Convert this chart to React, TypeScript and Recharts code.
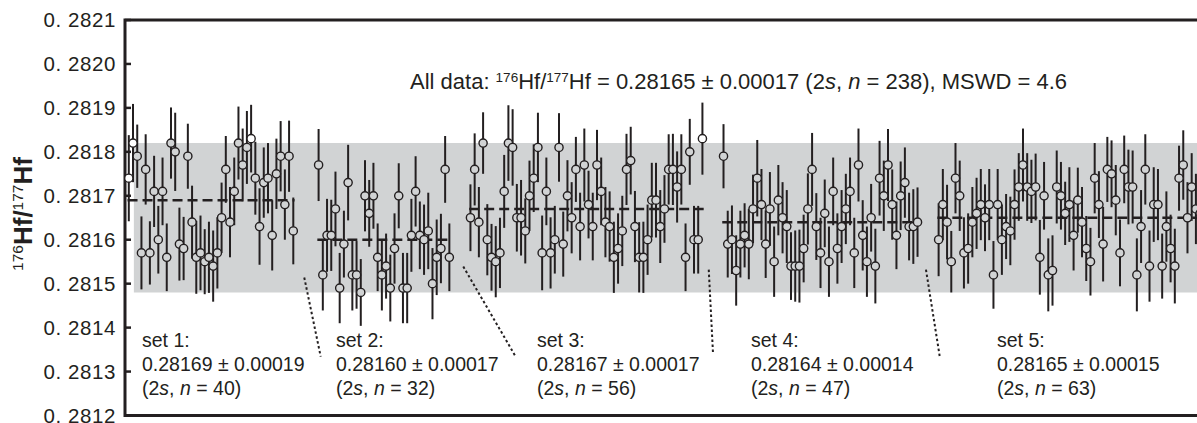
import React from 'react';
import { ScatterChart, Scatter, XAxis, YAxis, ErrorBar, ReferenceArea, ReferenceLine } from 'recharts';

const INK = '#231f20';
const BAND = '#d1d3d4';
const FONT = '"Liberation Sans", Arial, Helvetica, sans-serif';

// ---------- data ----------
const set1Values = [0.28174, 0.28182, 0.28179, 0.28157, 0.28176, 0.28157, 0.28171, 0.2816, 0.28171, 0.28156, 0.28182, 0.2818, 0.28159, 0.28158, 0.28179, 0.28164, 0.28156, 0.28157, 0.28155, 0.28156, 0.28154, 0.28157, 0.28165, 0.28176, 0.28164, 0.28171, 0.28182, 0.28177, 0.28181, 0.28183, 0.28174, 0.28163, 0.28173, 0.28174, 0.28161, 0.28175, 0.28179, 0.28168, 0.28179, 0.28162];
const set1Errors = [9.8e-5, 8.9e-5, 7.2e-5, 8.3e-5, 8e-5, 7.2e-5, 8.1e-5, 7.7e-5, 7.7e-5, 7.7e-5, 8.1e-5, 8.9e-5, 8.3e-5, 7.2e-5, 7.4e-5, 8.3e-5, 8.3e-5, 8.5e-5, 7.4e-5, 8.1e-5, 8.1e-5, 8.1e-5, 8e-5, 7.6e-5, 8e-5, 7.7e-5, 8.3e-5, 8.3e-5, 8.3e-5, 7.7e-5, 8.3e-5, 8.7e-5, 8e-5, 8e-5, 8e-5, 8e-5, 8e-5, 8e-5, 8.1e-5, 7.6e-5];

const set2Values = [0.28177, 0.28152, 0.28161, 0.28161, 0.28167, 0.28149, 0.28159, 0.28173, 0.28152, 0.28152, 0.28148, 0.2817, 0.28166, 0.2817, 0.28156, 0.28152, 0.28154, 0.28149, 0.28158, 0.2817, 0.28149, 0.28149, 0.28161, 0.28171, 0.28161, 0.2816, 0.28162, 0.2815, 0.28156, 0.28158, 0.28176, 0.28156];
const set2Errors = [8.2e-5, 8.1e-5, 8.3e-5, 8.1e-5, 8.5e-5, 8e-5, 7.6e-5, 8.6e-5, 8.1e-5, 7.7e-5, 7.6e-5, 8.1e-5, 7.6e-5, 7.5e-5, 7.7e-5, 8.1e-5, 7.4e-5, 7.6e-5, 8e-5, 7.4e-5, 8e-5, 8e-5, 8.3e-5, 8e-5, 7.7e-5, 8e-5, 8.7e-5, 8.1e-5, 8.6e-5, 7.9e-5, 7.6e-5, 7.7e-5];

const set3Values = [0.28165, 0.28176, 0.28164, 0.28182, 0.2816, 0.28156, 0.28155, 0.28157, 0.28171, 0.28182, 0.28181, 0.28165, 0.28165, 0.28162, 0.2817, 0.28174, 0.28181, 0.28157, 0.28171, 0.28157, 0.2816, 0.28181, 0.28159, 0.2817, 0.28165, 0.28176, 0.28163, 0.28177, 0.28168, 0.28163, 0.28177, 0.28171, 0.28164, 0.28163, 0.28156, 0.28158, 0.28162, 0.28176, 0.28178, 0.28163, 0.28156, 0.28156, 0.2816, 0.28169, 0.28169, 0.28163, 0.28167, 0.28176, 0.28176, 0.28172, 0.28176, 0.28156, 0.2818, 0.2816, 0.2816, 0.28183];
const set3Errors = [7.6e-5, 8.2e-5, 8e-5, 7e-5, 8.1e-5, 7.6e-5, 8.1e-5, 8e-5, 8.3e-5, 8.6e-5, 8.7e-5, 7.7e-5, 8.6e-5, 7.4e-5, 8e-5, 7.7e-5, 7.9e-5, 8.5e-5, 7.7e-5, 8.1e-5, 7.7e-5, 7.8e-5, 7.4e-5, 8.1e-5, 8.1e-5, 7.4e-5, 7.7e-5, 8.3e-5, 7.7e-5, 7.7e-5, 8e-5, 7.7e-5, 8e-5, 8e-5, 8.1e-5, 8e-5, 8e-5, 8.1e-5, 7.7e-5, 8.1e-5, 8e-5, 8.1e-5, 8e-5, 8.5e-5, 8.5e-5, 8.3e-5, 7.7e-5, 8e-5, 8.1e-5, 8.1e-5, 8e-5, 7.7e-5, 7.5e-5, 7.7e-5, 7.7e-5, 8.2e-5];

const set4Values = [0.28179, 0.28159, 0.2816, 0.28153, 0.28159, 0.28161, 0.28159, 0.28167, 0.28174, 0.28168, 0.28159, 0.28167, 0.28155, 0.28169, 0.28165, 0.28163, 0.28154, 0.28154, 0.28154, 0.28158, 0.28167, 0.28176, 0.28163, 0.28157, 0.28166, 0.28155, 0.28171, 0.28158, 0.28163, 0.28167, 0.28171, 0.28157, 0.28177, 0.28161, 0.28155, 0.28165, 0.28154, 0.28174, 0.2817, 0.28177, 0.28168, 0.28161, 0.2817, 0.28173, 0.28163, 0.28163, 0.28164];
const set4Errors = [7.3e-5, 7.6e-5, 7.8e-5, 8e-5, 7.6e-5, 7.3e-5, 8e-5, 7.8e-5, 8.7e-5, 8.1e-5, 7.7e-5, 8.4e-5, 8e-5, 8e-5, 8.1e-5, 8.3e-5, 7.7e-5, 8.1e-5, 8.3e-5, 7.7e-5, 8.1e-5, 8.3e-5, 7.6e-5, 8e-5, 7.7e-5, 8e-5, 7.7e-5, 8e-5, 8.3e-5, 8e-5, 7.7e-5, 8e-5, 8.3e-5, 8e-5, 8e-5, 7.7e-5, 8.5e-5, 8.5e-5, 8e-5, 8.2e-5, 8e-5, 7.7e-5, 7.8e-5, 8e-5, 7.7e-5, 8.5e-5, 7.9e-5];

const set5Values = [0.2816, 0.28168, 0.28164, 0.28155, 0.28174, 0.2817, 0.28157, 0.28158, 0.28164, 0.28166, 0.28168, 0.28165, 0.28168, 0.28152, 0.28168, 0.2816, 0.28163, 0.28162, 0.28168, 0.28172, 0.28177, 0.28172, 0.28171, 0.28172, 0.28156, 0.2817, 0.28152, 0.28153, 0.28172, 0.2817, 0.28166, 0.28168, 0.28161, 0.28169, 0.28164, 0.28158, 0.28155, 0.28174, 0.28168, 0.28159, 0.28176, 0.28175, 0.28169, 0.28157, 0.28176, 0.28172, 0.28172, 0.28152, 0.28163, 0.28176, 0.28154, 0.28168, 0.28168, 0.28154, 0.28163, 0.28158, 0.28154, 0.28174, 0.28177, 0.28165, 0.28172, 0.28167, 0.28166];
const set5Errors = [8.3e-5, 8.1e-5, 8.5e-5, 7e-5, 8e-5, 8e-5, 8.1e-5, 8e-5, 8e-5, 8.1e-5, 8.1e-5, 7.6e-5, 8.1e-5, 7.7e-5, 8.1e-5, 8e-5, 7.4e-5, 7.8e-5, 8e-5, 7.7e-5, 8.3e-5, 7.7e-5, 7.2e-5, 7.6e-5, 8.5e-5, 7.7e-5, 8.3e-5, 8e-5, 8.3e-5, 7.7e-5, 7.2e-5, 8.5e-5, 8e-5, 7.4e-5, 8e-5, 7.4e-5, 7.7e-5, 8e-5, 7.6e-5, 8.5e-5, 7.4e-5, 7.6e-5, 8e-5, 7.6e-5, 7.7e-5, 8.5e-5, 8.3e-5, 8.3e-5, 8.3e-5, 8e-5, 8.1e-5, 8.5e-5, 8.1e-5, 7.4e-5, 8e-5, 7.7e-5, 8.5e-5, 7.4e-5, 7.9e-5, 8.1e-5, 7.7e-5, 8e-5, 8e-5];

const setValues = [set1Values, set2Values, set3Values, set4Values, set5Values];
const setErrors = [set1Errors, set2Errors, set3Errors, set4Errors, set5Errors];
const setStarts = [0, 45, 81, 141, 192]; // analysis index of first spot in each set
const setMeans = [0.28169, 0.2816, 0.28167, 0.28164, 0.28165];
const setTwoS = ['0.00019', '0.00017', '0.00017', '0.00014', '0.00015'];
const setMeanText = ['0.28169', '0.28160', '0.28167', '0.28164', '0.28165'];
const setNames = ['set 1:', 'set 2:', 'set 3:', 'set 4:', 'set 5:'];

const allMean = '0.28165';
const allTwoS = '0.00017';
const allN = 238;
const mswd = '4.6';
const bandLow = 0.28148;
const bandHigh = 0.28182;

const yTicks = [0.2812, 0.2813, 0.2814, 0.2815, 0.2816, 0.2817, 0.2818, 0.2819, 0.282, 0.2821];
const Y_MIN = 0.2812;
const Y_MAX = 0.2821;
const X_MIN = -0.9;
const X_MAX = 258;
const BAND_START = 1.2;

// dotted leader lines from each set of data to its label (data coordinates)
const leaderLines = [
  [{ x: 41.6, y: 0.281514 }, { x: 45.5, y: 0.281334 }],
  [{ x: 79.3, y: 0.281539 }, { x: 91.6, y: 0.281336 }],
  [{ x: 137.5, y: 0.281532 }, { x: 138.5, y: 0.281343 }],
  [{ x: 189.0, y: 0.281532 }, { x: 192.3, y: 0.281332 }],
];
// label block left positions (px within chart frame)
const labelLefts = [134, 328, 529, 743, 989];

// ---------- components ----------
const Dot = (props: any) => {
  const { cx, cy, payload } = props;
  if (cx == null || cy == null) return null;
  const inBand = payload.x >= BAND_START && payload.y >= bandLow && payload.y <= bandHigh;
  return <circle cx={cx} cy={cy} r={4.1} fill={inBand ? BAND : '#ffffff'} stroke={INK} strokeWidth={1.4} />;
};

const YTick = (props: any) => {
  const { x, y, payload } = props;
  const label = '0. ' + Number(payload.value).toFixed(4).slice(2);
  return (
    <g>
      <line x1={x + 9} x2={x + 15} y1={y} y2={y} stroke={INK} strokeWidth={2.5} />
      <text x={x} y={y} dy="0.36em" textAnchor="end" fontSize={20.5} letterSpacing={0.6} fill={INK} fontFamily={FONT}>
        {label}
      </text>
    </g>
  );
};

const Sup = ({ children, size = 12, top = -6 }: any) => (
  <span style={{ fontSize: size, position: 'relative', top, lineHeight: 0, fontWeight: 'normal' }}>{children}</span>
);

export default function App() {
  const series = setValues.map((vals, i) =>
    vals.map((v, j) => ({ x: setStarts[i] + j, y: v, err: setErrors[i][j] }))
  );

  return (
    <div
      style={{
        position: 'fixed',
        left: 8,
        top: 8,
        width: 1189,
        height: 415,
        overflow: 'hidden',
        fontFamily: FONT,
        color: INK,
        background: '#ffffff',
      }}
    >
      <ScatterChart width={1209} height={415} margin={{ top: 12, right: 0, bottom: 7.5, left: 0 }}>
        <XAxis type="number" dataKey="x" domain={[X_MIN, X_MAX]} hide allowDataOverflow />
        <YAxis
          type="number"
          dataKey="y"
          domain={[Y_MIN, Y_MAX]}
          ticks={yTicks}
          interval={0}
          width={117}
          axisLine={false}
          tickLine={false}
          tickSize={0}
          tickMargin={9}
          tick={<YTick />}
          allowDataOverflow
        />
        <ReferenceArea x1={BAND_START} x2={X_MAX} y1={bandLow} y2={bandHigh} fill={BAND} fillOpacity={1} stroke="none" ifOverflow="visible" />
        {series.map((data, i) => (
          <Scatter key={'s' + i} data={data} dataKey="y" shape={<Dot />} isAnimationActive={false}>
            <ErrorBar dataKey="err" direction="y" width={0} stroke={INK} strokeWidth={2} isAnimationActive={false} />
          </Scatter>
        ))}
        {series.map((data, i) => (
          <ReferenceLine
            key={'m' + i}
            segment={[
              { x: data[0].x - 0.3, y: setMeans[i] },
              { x: data[data.length - 1].x + 0.3, y: setMeans[i] },
            ]}
            stroke={INK}
            strokeWidth={2.5}
            strokeDasharray="10 5"
            ifOverflow="visible"
          />
        ))}
        {leaderLines.map((seg, i) => (
          <ReferenceLine key={'l' + i} segment={seg} stroke={INK} strokeWidth={2} strokeDasharray="2.5 2.5" ifOverflow="visible" />
        ))}
        <ReferenceArea x1={X_MIN} x2={X_MAX} y1={Y_MIN} y2={Y_MAX} fill="none" stroke={INK} strokeWidth={3} ifOverflow="visible" />
        <ReferenceLine y={Y_MIN} stroke={INK} strokeWidth={3} ifOverflow="visible" />
      </ScatterChart>

      {/* y-axis title */}
      <div
        style={{
          position: 'absolute',
          left: 15,
          top: 206,
          transform: 'translate(-50%, -50%) rotate(-90deg)',
          whiteSpace: 'nowrap',
          fontWeight: 'bold',
          fontSize: 26,
          lineHeight: '28px',
        }}
      >
        <Sup size={15.5} top={-9}>176</Sup>Hf/<Sup size={15.5} top={-9}>177</Sup>Hf
      </div>

      {/* all data annotation */}
      <div style={{ position: 'absolute', left: 402, top: 61, fontSize: 22, lineHeight: '26px', whiteSpace: 'nowrap' }}>
        All data: <Sup size={13.5} top={-7}>176</Sup>Hf/<Sup size={13.5} top={-7}>177</Sup>Hf = {allMean} ± {allTwoS} (2<i>s</i>, <i>n</i> = {allN}), MSWD = {mswd}
      </div>

      {/* set annotations */}
      {setNames.map((name, i) => (
        <div
          key={'t' + i}
          style={{ position: 'absolute', left: labelLefts[i], top: 320, fontSize: 19.5, lineHeight: '24px', whiteSpace: 'nowrap' }}
        >
          <div>{name}</div>
          <div>
            {setMeanText[i]} ± {setTwoS[i]}
          </div>
          <div>
            (2<i>s</i>, <i>n</i> = {setValues[i].length})
          </div>
        </div>
      ))}
    </div>
  );
}
